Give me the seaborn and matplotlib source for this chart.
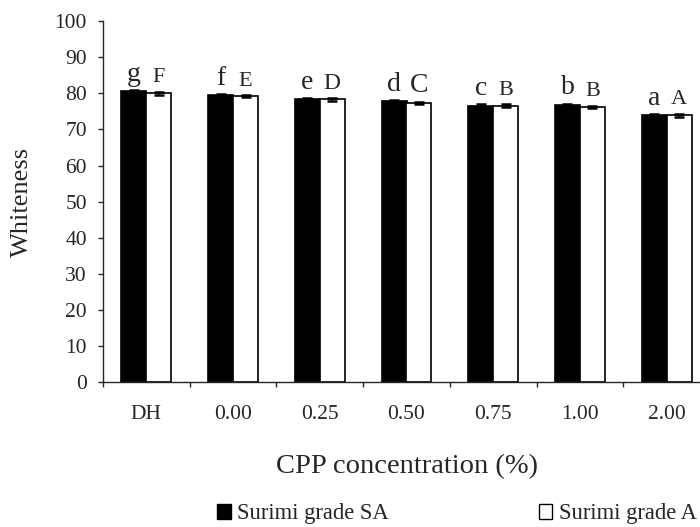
import matplotlib
matplotlib.use("Agg")
import matplotlib.pyplot as plt
from matplotlib.patches import Patch
from matplotlib.container import BarContainer
import seaborn as sns
import pandas as pd
import numpy as np

categories = ["DH", "0.00", "0.25", "0.50", "0.75", "1.00", "2.00"]
series_names = ["Surimi grade SA", "Surimi grade A"]
values_sa = [80.5, 79.5, 78.4, 77.8, 76.6, 76.7, 73.9]
values_a = [80.0, 79.2, 78.3, 77.3, 76.6, 76.2, 73.9]
err_sa = [0.3, 0.3, 0.3, 0.3, 0.3, 0.4, 0.3]
err_a = [0.4, 0.3, 0.4, 0.4, 0.4, 0.4, 0.4]
letters_sa = ["g", "f", "e", "d", "c", "b", "a"]
letters_a = ["F", "E", "D", "C", "B", "B", "A"]
yticks = list(range(0, 101, 10))

sns.set_style("ticks")
plt.rcParams["font.family"] = ["Liberation Serif", "DejaVu Serif"]

df = pd.DataFrame({
    "CPP": categories * 2,
    "Whiteness": values_sa + values_a,
    "Series": [series_names[0]] * len(categories) + [series_names[1]] * len(categories),
})

fig = plt.figure(figsize=(7.0, 5.27), dpi=100)
ax = fig.add_axes([103 / 700, 1 - 382.3 / 527, 607 / 700, 361.3 / 527])

sns.barplot(data=df, x="CPP", y="Whiteness", hue="Series", order=categories,
            hue_order=series_names, palette=["black", "white"], edgecolor="black",
            linewidth=1.2, width=0.575, errorbar=None, legend=False, ax=ax)

bar_conts = [c for c in ax.containers if isinstance(c, BarContainer)]
errs = [err_sa, err_a]
labels = [letters_sa, letters_a]
vals = [values_sa, values_a]
lsize = [[20, 20, 20, 20, 20, 20, 20], [16, 16, 17, 20, 16, 16, 16]]
for k, cont in enumerate(bar_conts):
    xs = [p.get_x() + p.get_width() / 2 for p in cont.patches]
    ax.errorbar(xs, vals[k], yerr=errs[k], fmt="none", ecolor="black",
                elinewidth=1.2, capsize=3.6, capthick=1.8, zorder=5)
    for i, x in enumerate(xs):
        ax.text(x, vals[k][i] + errs[k][i] + 2.6, labels[k][i], ha="center",
                va="baseline", fontsize=lsize[k][i])

ax.set_ylim(0, 100)
ax.set_xlim(-0.5, len(categories) - 0.5)
ax.set_yticks(yticks)
ax.tick_params(axis="y", direction="out", length=3.6, width=1, labelsize=15.5, pad=8)
ax.tick_params(axis="x", which="major", length=0, labelsize=15.5, pad=16.5)
ax.set_xticks(np.arange(-0.5, len(categories) + 0.5, 1), minor=True)
ax.tick_params(axis="x", which="minor", direction="out", length=3.6, width=1)
for s in ["top", "right"]:
    ax.spines[s].set_visible(False)
ax.spines["left"].set_linewidth(1)
ax.spines["bottom"].set_linewidth(1)

ax.set_xlabel("CPP concentration (%)", fontsize=20.5)
ax.xaxis.set_label_coords(0.5, -0.2)
ax.set_ylabel("Whiteness", fontsize=19)
ax.yaxis.set_label_coords(-0.115, 0.5)

handles = [Patch(facecolor="black", edgecolor="black", linewidth=1.0),
           Patch(facecolor="white", edgecolor="black", linewidth=1.0)]
fig.legend(handles, series_names, loc="center", bbox_to_anchor=(457 / 700, 1 - 514 / 527),
           ncol=2, frameon=False, fontsize=16.3, handlelength=0.6, handleheight=0.6,
           handletextpad=0.3, columnspacing=6.6, borderaxespad=0, borderpad=0)

fig.savefig("out.png", dpi=100)
